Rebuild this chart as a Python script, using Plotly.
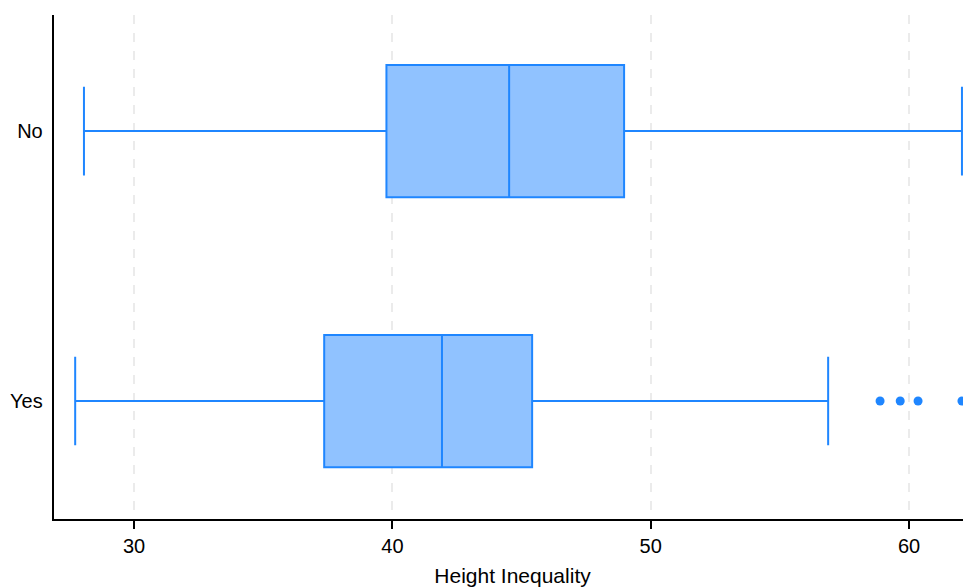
import plotly.graph_objects as go

categories = ["Yes", "No"]
q1 = [37.36, 39.77]
median = [41.92, 44.52]
q3 = [45.41, 48.97]
lowerfence = [27.72, 28.06]
upperfence = [56.87, 62.05]
outliers_yes = [58.88, 59.66, 60.35, 62.05]

line_color = "#1f86ff"
fill_color = "#90c2ff"

fig = go.Figure()
fig.add_trace(go.Box(
    y=categories, q1=q1, median=median, q3=q3,
    lowerfence=lowerfence, upperfence=upperfence,
    orientation="h", boxpoints=False,
    line=dict(color=line_color, width=2), fillcolor=fill_color,
    width=0.49, whiskerwidth=0.67, showlegend=False, hoverinfo="x",
))
fig.add_trace(go.Scatter(
    x=outliers_yes, y=["Yes"] * len(outliers_yes), mode="markers",
    marker=dict(color=line_color, size=9), showlegend=False, cliponaxis=False,
))

fig.update_layout(
    width=963, height=579,
    margin=dict(l=46, r=0, t=7, b=68),
    plot_bgcolor="white", paper_bgcolor="white",
    font=dict(family="Liberation Sans, Arial, sans-serif", size=18, color="black"),
    xaxis=dict(
        title=dict(text="Height Inequality", standoff=14, font=dict(size=21)),
        tickfont=dict(size=20),
        range=[26.9, 62.4], tickvals=[30, 40, 50, 60],
        showgrid=True, gridcolor="#ebebeb", gridwidth=2, griddash="dash",
        showline=True, linecolor="black", linewidth=1.5,
        ticks="outside", ticklen=8, tickcolor="black", tickwidth=1.5,
        zeroline=False,
    ),
    yaxis=dict(
        type="category", categoryorder="array", categoryarray=categories,
        range=[-0.437, 1.43], tickfont=dict(size=20),
        showgrid=False, showline=True, linecolor="black", linewidth=1.5,
        ticks="", zeroline=False, ticksuffix=" ",
    ),
)

fig.write_html("out.html")
